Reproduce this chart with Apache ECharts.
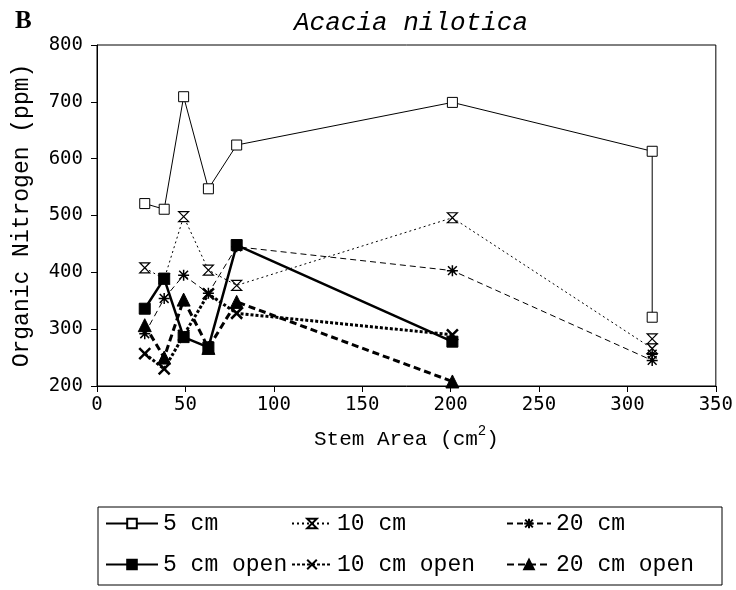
<!DOCTYPE html>
<html>
<head>
<meta charset="utf-8">
<script src="https://cdn.jsdelivr.net/npm/echarts@6/dist/echarts.min.js"></script>
<style>
  html, body { margin: 0; padding: 0; background: #fff; }
  #chart-container { width: 736px; height: 590px; }
</style>
</head>
<body>
<div id="chart-container"></div>
<script>
// stem area (cm2) and organic nitrogen (ppm)
var x5cm = [27, 38, 49, 63, 79, 201, 314, 314];
var y5cm = [521, 511, 709, 547, 624, 699, 613, 321];
var x10cm = [27, 38, 49, 63, 79, 201, 314, 314];
var y10cm = [408, 388, 498, 404, 377, 496, 266, 283];
var x20cm = [27, 38, 49, 63, 79, 201, 314, 314];
var y20cm = [292, 354, 395, 363, 445, 403, 245, 256];
var x5open = [27, 38, 49, 63, 79, 201];
var y5open = [336, 389, 286, 268, 448, 278];
var x10open = [27, 38, 49, 63, 79, 201];
var y10open = [257, 230, 289, 362, 328, 290];
var x20open = [27, 38, 49, 63, 79, 201];
var y20open = [307, 250, 352, 267, 348, 208];

var seriesNames = ['5 cm', '10 cm', '20 cm', '5 cm open', '10 cm open', '20 cm open'];
var xTicks = [0, 50, 100, 150, 200, 250, 300, 350];
var yTicks = [200, 300, 400, 500, 600, 700, 800];

function pairs(xs, ys) {
  return xs.map(function (x, i) { return [x, ys[i]]; });
}

var hourglass = 'path://M0,0 L10,0 L0,10 L10,10 Z';
var asterisk = 'path://M0,5 L10,5 M5,0 L5,10 M1,1 L9,9 M9,1 L1,9';
var cross = 'path://M0,0 L10,10 M10,0 L0,10';

var mono = 'Liberation Mono';
var legendText = { fontFamily: mono, fontSize: 23, color: '#000' };

var dom = document.getElementById('chart-container');
var myChart = echarts.init(dom, null, { renderer: 'canvas' });

var option = {
  animation: false,
  backgroundColor: '#fff',
  title: [
    {
      text: 'B',
      left: 10,
      top: 4,
      textStyle: { fontFamily: 'Liberation Serif', fontSize: 25, fontWeight: 'bold', color: '#000' }
    },
    {
      text: 'Acacia nilotica',
      left: 289,
      top: 5,
      textStyle: { fontFamily: mono, fontSize: 26, fontStyle: 'italic', fontWeight: 'normal', color: '#000' }
    }
  ],
  legend: [
    {
      data: [seriesNames[0], seriesNames[3]],
      orient: 'vertical',
      left: 105,
      top: 512,
      padding: 0,
      itemWidth: 52,
      itemHeight: 12,
      itemGap: 18,
      textStyle: legendText
    },
    {
      data: [seriesNames[1], seriesNames[4]],
      orient: 'vertical',
      left: 291,
      top: 512,
      padding: 0,
      itemWidth: 40,
      itemHeight: 12,
      itemGap: 18,
      textStyle: legendText
    },
    {
      data: [seriesNames[2], seriesNames[5]],
      orient: 'vertical',
      left: 506,
      top: 512,
      padding: 0,
      itemWidth: 44,
      itemHeight: 12,
      itemGap: 18,
      textStyle: legendText
    }
  ],
  graphic: [
    {
      type: 'rect',
      shape: { x: 98, y: 507, width: 624, height: 78 },
      style: { fill: 'none', stroke: '#000', lineWidth: 1 }
    }
  ],
  grid: {
    left: 97,
    right: 20,
    top: 45,
    bottom: 204,
    show: true,
    borderColor: '#000',
    borderWidth: 1,
    backgroundColor: 'transparent'
  },
  xAxis: {
    type: 'value',
    min: xTicks[0],
    max: xTicks[xTicks.length - 1],
    interval: 50,
    name: 'Stem Area (cm{sup|2})',
    nameLocation: 'middle',
    nameGap: 38,
    nameTextStyle: {
      fontFamily: mono,
      fontSize: 21,
      color: '#000',
      rich: {
        sup: { fontFamily: mono, fontSize: 14, color: '#000', padding: [0, 0, 16, 0] }
      }
    },
    axisLine: { lineStyle: { color: '#000', width: 1 } },
    axisTick: { length: 6, lineStyle: { color: '#000' } },
    axisLabel: { margin: 10, fontFamily: 'DejaVu Sans Mono', fontSize: 19, color: '#000' },
    splitLine: { show: false }
  },
  yAxis: {
    type: 'value',
    min: yTicks[0],
    max: yTicks[yTicks.length - 1],
    interval: 100,
    name: 'Organic Nitrogen (ppm)',
    nameLocation: 'middle',
    nameGap: 64,
    nameTextStyle: { fontFamily: mono, fontSize: 23, color: '#000' },
    axisLine: { lineStyle: { color: '#000', width: 1 } },
    axisTick: { length: 6, lineStyle: { color: '#000' } },
    axisLabel: { margin: 14, fontFamily: 'DejaVu Sans Mono', fontSize: 19, color: '#000' },
    splitLine: { show: false }
  },
  series: [
    {
      name: seriesNames[0],
      type: 'line',
      data: pairs(x5cm, y5cm),
      symbol: 'rect',
      symbolSize: 10,
      lineStyle: { color: '#000', width: 1 },
      itemStyle: { color: '#fff', borderColor: '#000', borderWidth: 1 },
      z: 2
    },
    {
      name: seriesNames[1],
      type: 'line',
      data: pairs(x10cm, y10cm),
      symbol: hourglass,
      symbolSize: 10,
      lineStyle: { color: '#000', width: 1, type: [2, 3] },
      itemStyle: { color: '#fff', borderColor: '#000', borderWidth: 1.2 },
      z: 2
    },
    {
      name: seriesNames[2],
      type: 'line',
      data: pairs(x20cm, y20cm),
      symbol: asterisk,
      symbolSize: 11,
      lineStyle: { color: '#000', width: 1, type: [6, 4] },
      itemStyle: { color: '#000', borderColor: '#000', borderWidth: 1.5 },
      z: 2
    },
    {
      name: seriesNames[3],
      type: 'line',
      data: pairs(x5open, y5open),
      symbol: 'rect',
      symbolSize: 11,
      lineStyle: { color: '#000', width: 2.5 },
      itemStyle: { color: '#000', borderColor: '#000', borderWidth: 1 },
      z: 3
    },
    {
      name: seriesNames[4],
      type: 'line',
      data: pairs(x10open, y10open),
      symbol: cross,
      symbolSize: 11,
      lineStyle: { color: '#000', width: 3, type: [3, 2] },
      itemStyle: { color: '#000', borderColor: '#000', borderWidth: 2.5 },
      z: 3
    },
    {
      name: seriesNames[5],
      type: 'line',
      data: pairs(x20open, y20open),
      symbol: 'triangle',
      symbolSize: 13,
      lineStyle: { color: '#000', width: 3, type: [7, 4] },
      itemStyle: { color: '#000', borderColor: '#000', borderWidth: 1 },
      z: 3
    }
  ]
};

myChart.setOption(option);

window.addEventListener('resize', myChart.resize);
</script>
</body>
</html>
